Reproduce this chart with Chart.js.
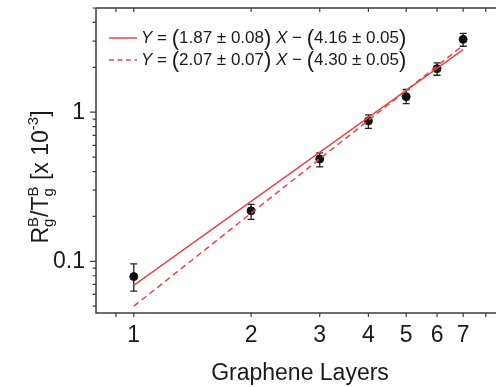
<!DOCTYPE html>
<html>
<head>
<meta charset="utf-8">
<script src="https://cdn.jsdelivr.net/npm/chart.js@4.4.0/dist/chart.umd.min.js"></script>
<style>
  html, body { margin: 0; padding: 0; background: #fff; }
  #wrap { width: 496px; height: 387px; }
</style>
</head>
<body>
<div id="wrap"><canvas id="c" width="496" height="387"></canvas></div>
<script>
// data
const layers = [1, 2, 3, 4, 5, 6, 7];
const ratio = [0.079, 0.218, 0.486, 0.874, 1.27, 1.96, 3.08];
const ratioHigh = [0.096, 0.241, 0.533, 0.96, 1.42, 2.14, 3.38];
const ratioLow = [0.063, 0.191, 0.43, 0.78, 1.14, 1.77, 2.77];

const fitX = [1, 7];
const fitSolidY = [0.069, 2.63];
const fitDashY = [0.050, 2.81];

const xTickValues = [0.9, 1, 2, 3, 4, 5, 6, 7, 8];
const xTickLabels = [1, 2, 3, 4, 5, 6, 7];
const yTickValues = [0.05, 0.06, 0.07, 0.08, 0.09, 0.1, 0.2, 0.3, 0.4, 0.5, 0.6, 0.7, 0.8, 0.9, 1, 2, 3, 4, 5];
const yTickLabels = [0.1, 1];

const legendSolid = ["1.87 \u00b1 0.08", "4.16 \u00b1 0.05"];
const legendDash = ["2.07 \u00b1 0.07", "4.30 \u00b1 0.05"];

const FONT = "'Liberation Sans', Arial, sans-serif";
const RED = "#e5474b";
const AXIS = "#3c3c3c";

// error bars under the points
const errorBars = {
  id: "errorBars",
  beforeDatasetsDraw(chart) {
    const { ctx, scales: { x, y } } = chart;
    ctx.save();
    ctx.strokeStyle = "#222";
    ctx.lineWidth = 1.3;
    layers.forEach((v, i) => {
      const px = x.getPixelForValue(v);
      const hi = y.getPixelForValue(ratioHigh[i]);
      const lo = y.getPixelForValue(ratioLow[i]);
      ctx.beginPath();
      ctx.moveTo(px, hi); ctx.lineTo(px, lo);
      ctx.moveTo(px - 3.5, hi); ctx.lineTo(px + 3.5, hi);
      ctx.moveTo(px - 3.5, lo); ctx.lineTo(px + 3.5, lo);
      ctx.stroke();
    });
    ctx.restore();
  }
};

function drawParts(ctx, x, y, parts) {
  parts.forEach(p => {
    ctx.font = (p.italic ? "italic " : "") + p.size + "px " + FONT;
    ctx.fillText(p.t, x, y + (p.dy || 0));
    x += ctx.measureText(p.t).width;
  });
  return x;
}

function legendParts(a, b) {
  const s = 17, big = 22;
  return [
    { t: "Y", italic: true, size: s },
    { t: " = ", size: s },
    { t: "(", size: big, dy: 1 },
    { t: a, size: s },
    { t: ")", size: big, dy: 1 },
    { t: " ", size: s },
    { t: "X", italic: true, size: s },
    { t: " \u2212 ", size: s },
    { t: "(", size: big, dy: 1 },
    { t: b, size: s },
    { t: ")", size: big, dy: 1 }
  ];
}

// frame, tick marks, legend and titles
const decorations = {
  id: "decorations",
  afterDraw(chart) {
    const { ctx, chartArea: { left, right, top, bottom }, scales: { x, y } } = chart;
    ctx.save();
    ctx.strokeStyle = AXIS;
    ctx.lineWidth = 1.5;
    ctx.beginPath();
    ctx.moveTo(left, top); ctx.lineTo(right, top);
    ctx.moveTo(left, top); ctx.lineTo(left, bottom);
    ctx.lineTo(right, bottom);
    ctx.stroke();

    ctx.lineWidth = 1.2;
    ctx.beginPath();
    xTickValues.forEach(v => {
      const px = x.getPixelForValue(v);
      ctx.moveTo(px, bottom); ctx.lineTo(px, bottom + 4);
      ctx.moveTo(px, top); ctx.lineTo(px, top + 4);
    });
    yTickValues.forEach(v => {
      const py = y.getPixelForValue(v);
      const len = yTickLabels.includes(v) ? 6 : 3.5;
      ctx.moveTo(left - len, py); ctx.lineTo(left, py);
    });
    ctx.stroke();

    // legend
    ctx.fillStyle = "#1a1a1a";
    ctx.textBaseline = "middle";
    ctx.strokeStyle = RED;
    ctx.lineWidth = 1.5;
    ctx.beginPath();
    ctx.moveTo(109, 38); ctx.lineTo(137, 38);
    ctx.stroke();
    ctx.setLineDash([5, 3.5]);
    ctx.beginPath();
    ctx.moveTo(109, 60); ctx.lineTo(137, 60);
    ctx.stroke();
    ctx.setLineDash([]);
    drawParts(ctx, 141, 38, legendParts(legendSolid[0], legendSolid[1]));
    drawParts(ctx, 141, 60, legendParts(legendDash[0], legendDash[1]));

    // x title
    ctx.textAlign = "center";
    ctx.textBaseline = "alphabetic";
    ctx.font = "23px " + FONT;
    ctx.fillText("Graphene Layers", 300, 380);

    // y title (rotated, with sub/superscripts)
    const m = 23, sm = 15;
    const pieces = [
      { t: "R", size: m, dy: 0, adv: true },
      { t: "B", size: sm, dy: -10, adv: false },
      { t: "g", size: sm, dy: 5, adv: true },
      { t: "/T", size: m, dy: 0, adv: true },
      { t: "B", size: sm, dy: -10, adv: false },
      { t: "g", size: sm, dy: 5, adv: true },
      { t: " [x 10", size: m, dy: 0, adv: true },
      { t: "-3", size: sm, dy: -10, adv: true },
      { t: "]", size: m, dy: 0, adv: true }
    ];
    let total = 0;
    pieces.forEach(p => {
      ctx.font = p.size + "px " + FONT;
      if (p.adv) total += p.t === "g" ? ctx.measureText("B").width : ctx.measureText(p.t).width;
    });
    ctx.textAlign = "left";
    ctx.translate(48, 177 + total / 2);
    ctx.rotate(-Math.PI / 2);
    let cx = 0;
    pieces.forEach(p => {
      ctx.font = p.size + "px " + FONT;
      ctx.fillText(p.t, cx, p.dy);
      if (p.adv) cx += p.t === "g" ? ctx.measureText("B").width : ctx.measureText(p.t).width;
    });
    ctx.restore();
  }
};

new Chart(document.getElementById("c"), {
  type: "scatter",
  data: {
    datasets: [
      {
        label: "data",
        data: layers.map((v, i) => ({ x: v, y: ratio[i] })),
        backgroundColor: "#111",
        borderColor: "#111",
        pointRadius: 4,
        order: 2
      },
      {
        label: "fit solid",
        type: "line",
        data: fitX.map((v, i) => ({ x: v, y: fitSolidY[i] })),
        borderColor: RED,
        borderWidth: 1.5,
        pointRadius: 0,
        order: 1
      },
      {
        label: "fit dash",
        type: "line",
        data: fitX.map((v, i) => ({ x: v, y: fitDashY[i] })),
        borderColor: RED,
        borderWidth: 1.5,
        borderDash: [6, 4],
        pointRadius: 0,
        order: 1
      }
    ]
  },
  options: {
    responsive: false,
    animation: false,
    layout: { autoPadding: false, padding: { top: 8, right: 0, left: 0, bottom: 0 } },
    plugins: { legend: { display: false }, tooltip: { enabled: false } },
    scales: {
      x: {
        type: "logarithmic",
        min: 0.8,
        max: 8.5,
        grid: { display: false, drawTicks: false },
        border: { display: false },
        afterBuildTicks: s => { s.ticks = xTickValues.map(v => ({ value: v })); },
        afterFit: s => {
          s.height = 74;
          s.paddingLeft = 0; s.paddingRight = 0;
        },
        ticks: {
          autoSkip: false,
          maxRotation: 0,
          padding: 9,
          color: "#1a1a1a",
          font: { family: FONT, size: 23 },
          callback: v => (xTickLabels.includes(v) ? String(v) : "")
        }
      },
      y: {
        type: "logarithmic",
        min: 0.045,
        max: 5,
        grid: { display: false, drawTicks: false },
        border: { display: false },
        afterBuildTicks: s => { s.ticks = yTickValues.map(v => ({ value: v })); },
        afterFit: s => {
          s.width = 96;
          s.paddingTop = 0; s.paddingBottom = 0;
        },
        ticks: {
          autoSkip: false,
          padding: 11,
          color: "#1a1a1a",
          font: { family: FONT, size: 23 },
          callback: v => (yTickLabels.includes(v) ? String(v) : "")
        }
      }
    }
  },
  plugins: [errorBars, decorations]
});
</script>
</body>
</html>
